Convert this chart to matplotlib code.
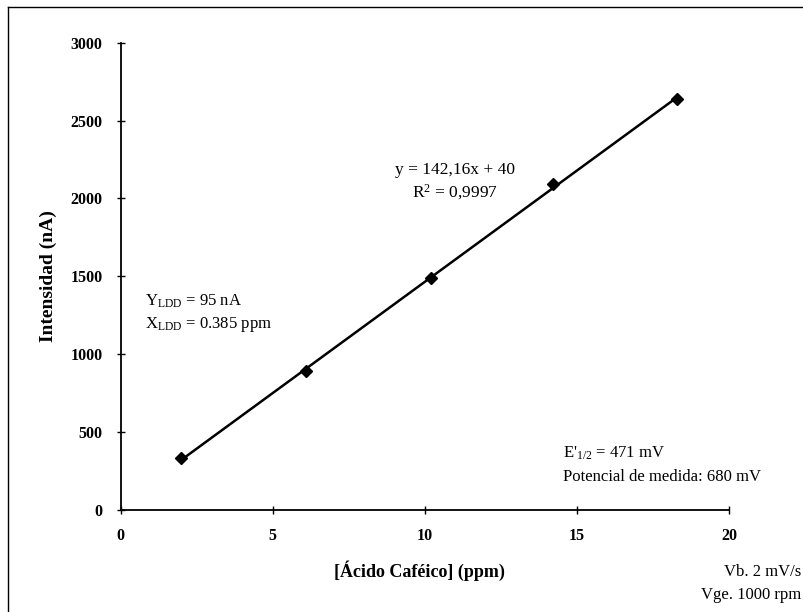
import numpy as np
import matplotlib
matplotlib.use("Agg")
import matplotlib.pyplot as plt
from matplotlib.lines import Line2D

# datos de calibrado
conc = [2.0, 6.1, 10.2, 14.2, 18.3]
intens = [330, 890, 1490, 2090, 2640]
xticks = [0, 5, 10, 15, 20]
yticks = [0, 500, 1000, 1500, 2000, 2500, 3000]

plt.rcParams['font.family'] = 'Liberation Serif'
plt.rcParams['mathtext.fontset'] = 'custom'
plt.rcParams['mathtext.rm'] = 'Liberation Serif'
plt.rcParams['mathtext.it'] = 'Liberation Serif:italic'

fig = plt.figure(figsize=(8.04, 6.12), dpi=100)
ax = fig.add_axes([0.150, 0.167, 0.757, 0.763])

# recta de regresion
m, b = np.polyfit(conc, intens, 1)
xl = np.array([min(conc), max(conc)])
ax.plot(xl, m * xl + b, color='black', lw=1.8)
ax.plot(conc, intens, 'D', color='black', ms=6.5)

ax.set_xlim(0, 20)
ax.set_ylim(0, 3000)
ax.set_xticks(xticks)
ax.set_yticks(yticks)
ax.spines['top'].set_visible(False)
ax.spines['right'].set_visible(False)
ax.spines['left'].set_linewidth(1.3)
ax.spines['bottom'].set_linewidth(1.3)
ax.tick_params(direction='inout', length=6, width=1, labelsize=11.5, pad=10)
for t in ax.get_xticklabels() + ax.get_yticklabels():
    t.set_fontweight('bold')

ax.set_ylabel('Intensidad (nA)', fontsize=14, fontweight='bold', labelpad=10)
fig.text(0.522, 0.068, '[Ácido Caféico] (ppm)', fontsize=13, fontweight='bold',
         ha='center', va='center')

fig.text(0.566, 0.722, 'y = 142,16x + 40', fontsize=12.5, ha='center', va='center')
fig.text(0.566, 0.686, 'R$^2$ = 0,9997', fontsize=12.5, ha='center', va='center')

fig.text(0.180, 0.507, 'Y$_{\\mathrm{LDD}}$ = 95 nA', fontsize=12, va='center')
fig.text(0.180, 0.469, 'X$_{\\mathrm{LDD}}$ = 0.385 ppm', fontsize=12, va='center')

fig.text(0.700, 0.260, "E'$_{1/2}$ = 471 mV", fontsize=12, va='center')
fig.text(0.700, 0.221, 'Potencial de medida: 680 mV', fontsize=12, va='center')

fig.text(0.997, 0.065, 'Vb. 2 mV/s', fontsize=12, ha='right', va='center')
fig.text(0.997, 0.028, 'Vge. 1000 rpm', fontsize=12, ha='right', va='center')

# marco de la figura
fig.add_artist(Line2D([0.010, 0.010], [0.0, 0.989], color='black', lw=1,
                      transform=fig.transFigure))
fig.add_artist(Line2D([0.010, 1.0], [0.989, 0.989], color='black', lw=1,
                      transform=fig.transFigure))

fig.savefig('out.png', dpi=100)
